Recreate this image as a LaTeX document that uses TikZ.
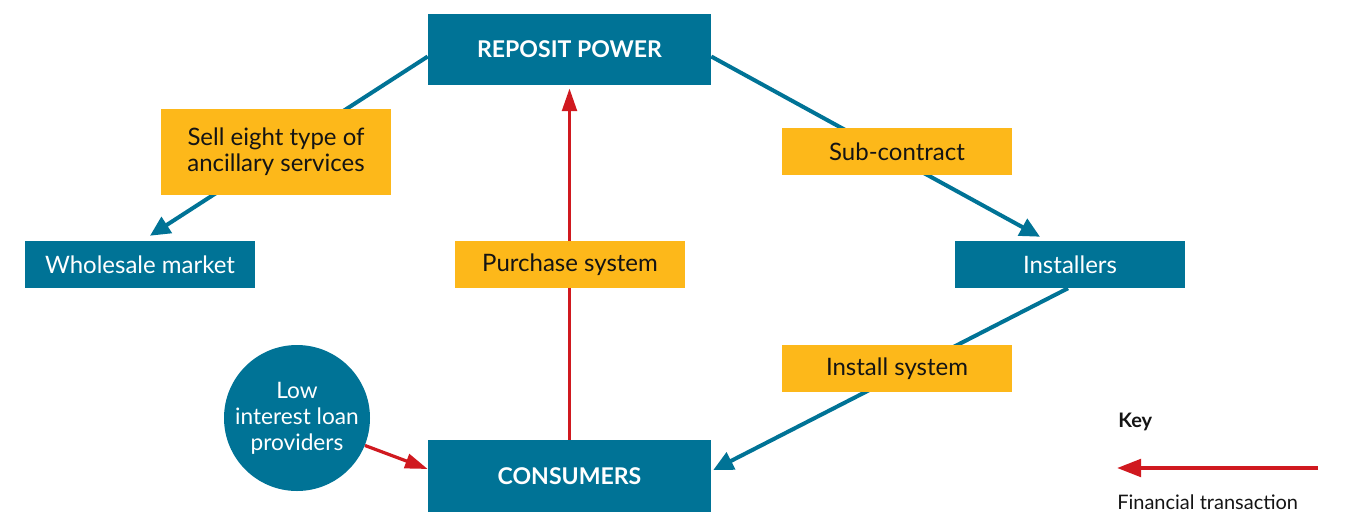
\documentclass[tikz,border=0pt]{standalone}
\usepackage{fontspec}
\setmainfont{Lato}
\usetikzlibrary{arrows.meta,backgrounds,calc}
\definecolor{rblue}{RGB}{0,115,150}
\definecolor{ryellow}{RGB}{253,184,26}
\definecolor{rred}{RGB}{208,25,31}
\definecolor{rtext}{RGB}{20,20,20}
\begin{document}
\begin{tikzpicture}[x=0.75pt,y=-0.75pt,
  box/.style={inner sep=0pt,align=center,font=\fontsize{18}{19.5}\selectfont},
  bluebox/.style={box,fill=rblue,text=white},
  bigbox/.style={bluebox,font=\fontsize{17.3}{19.5}\selectfont\bfseries,minimum width=212.25pt,minimum height=53.5pt},
  smallbox/.style={bluebox,minimum width=172.5pt,minimum height=35.25pt},
  labelbox/.style={box,fill=ryellow,text=rtext,minimum width=172.5pt,minimum height=35.25pt},
  flow/.style={draw=rblue,line width=3pt,-{Triangle[length=15pt,width=14pt]}},
  money/.style={draw=rred,line width=2.4pt,-{Triangle[length=17pt,width=11pt]}}]
\useasboundingbox (0,0) rectangle (1347,512);
% main nodes
\node[bigbox] (rp) at (569.5,49.5) {REPOSIT POWER};
\node[bigbox,minimum height=54pt] (cons) at (569.5,476) {CONSUMERS};
\node[smallbox] (wm) at (140,264.5) {Wholesale market};
\node[smallbox] (inst) at (1070,264.5) {Installers};
\node[circle,fill=rblue,text=white,inner sep=0pt,minimum size=109.5pt,align=center,
      font=\fontsize{17}{19.5}\selectfont] (loan) at (297,418) {Low\\interest loan\\providers};
% labels
\node[labelbox,minimum height=64.5pt] (lsell) at (276,152) {Sell eight type of\\ancillary services};
\node[labelbox] (lpur) at (570,264.5) {Purchase system};
\node[labelbox] (lsub) at (897,151.5) {Sub-contract};
\node[labelbox] (linst) at (897,368.5) {Install system};
% key
\node[font=\fontsize{15}{17}\selectfont\bfseries,text=rtext,anchor=west,inner sep=0pt] (key) at (1118,422) {Key};
\coordinate (k1) at (1318,468);
\coordinate (k2) at (1117,468);
\node[font=\fontsize{15}{17}\selectfont,text=rtext,anchor=west,inner sep=0pt] (ft) at (1117,502) {Financial transaction};
% connectors
\begin{pgfonlayer}{background}
\draw[flow] ([shift={(0,7)}]rp.west) -- ([shift={(10,-5)}]wm.north);
\draw[flow] ([shift={(0,7)}]rp.east) -- ([shift={(-30,-4)}]inst.north);
\draw[flow] ([shift={(-2,0)}]inst.south) -- ([shift={(2,-6)}]cons.east);
\draw[money] (cons.north) -- ([shift={(0,3)}]rp.south);
\draw[money] (loan.-22) -- ([shift={(0,-7)}]cons.west);
\end{pgfonlayer}
\draw[draw=rred,line width=3pt,-{Triangle[length=18pt,width=13pt]}] (k1) -- (k2);
\end{tikzpicture}
\end{document}
